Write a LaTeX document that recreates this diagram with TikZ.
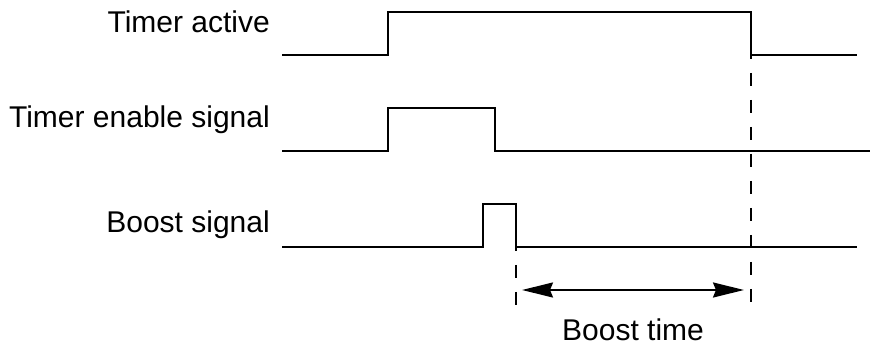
\documentclass[tikz,border=0pt]{standalone}
\usepackage{fontspec}
\setmainfont{Liberation Sans}
\usetikzlibrary{arrows.meta}
\begin{document}
\begin{tikzpicture}[x=1pt,y=-1pt,
  sig/.style={line width=2.2pt,line join=miter},
  guide/.style={line width=2.2pt,dash pattern=on 13pt off 14pt},
  lbl/.style={font=\fontsize{30}{35}\selectfont,inner sep=0pt},
  span/.style={line width=2pt,{Stealth[length=31pt,width=15pt,inset=3pt]}-{Stealth[length=31pt,width=15pt,inset=3pt]}}]
\useasboundingbox (0,0) rectangle (870,347);
% labels
\node[lbl,anchor=base east] (la) at (270,33) {Timer active};
\node[lbl,anchor=base east] (le) at (270,128) {Timer enable signal};
\node[lbl,anchor=base east] (lb) at (270,233) {Boost signal};
% Timer active
\coordinate (a0) at (282,55);
\coordinate (a1) at (751,55);
\coordinate (a2) at (857,55);
\draw[sig] (a0) -- (388,55) -- (388,12) -- (751,12) -- (a1) -- (a2);
% Timer enable signal
\coordinate (e0) at (282,151);
\coordinate (e1) at (870,151);
\draw[sig] (e0) -- (388,151) -- (388,108) -- (495,108) -- (495,151) -- (e1);
% Boost signal
\coordinate (b0) at (282,247);
\coordinate (b1) at (516,247);
\coordinate (b2) at (857,247);
\draw[sig] (b0) -- (483,247) -- (483,204) -- (516,204) -- (b1) -- (b2);
% guides
\coordinate (g1) at (751,311);
\coordinate (g2) at (516,311);
\draw[guide] ([yshift=9pt]a1) -- (g1);
\draw[guide] ([yshift=9pt]b1) -- (g2);
% arrow
\coordinate (s0) at (522,290);
\coordinate (s1) at (744,290);
\draw[span] (s0) -- (s1);
\node[lbl,anchor=base] (bt) at (633,341) {Boost time};
\end{tikzpicture}
\end{document}
